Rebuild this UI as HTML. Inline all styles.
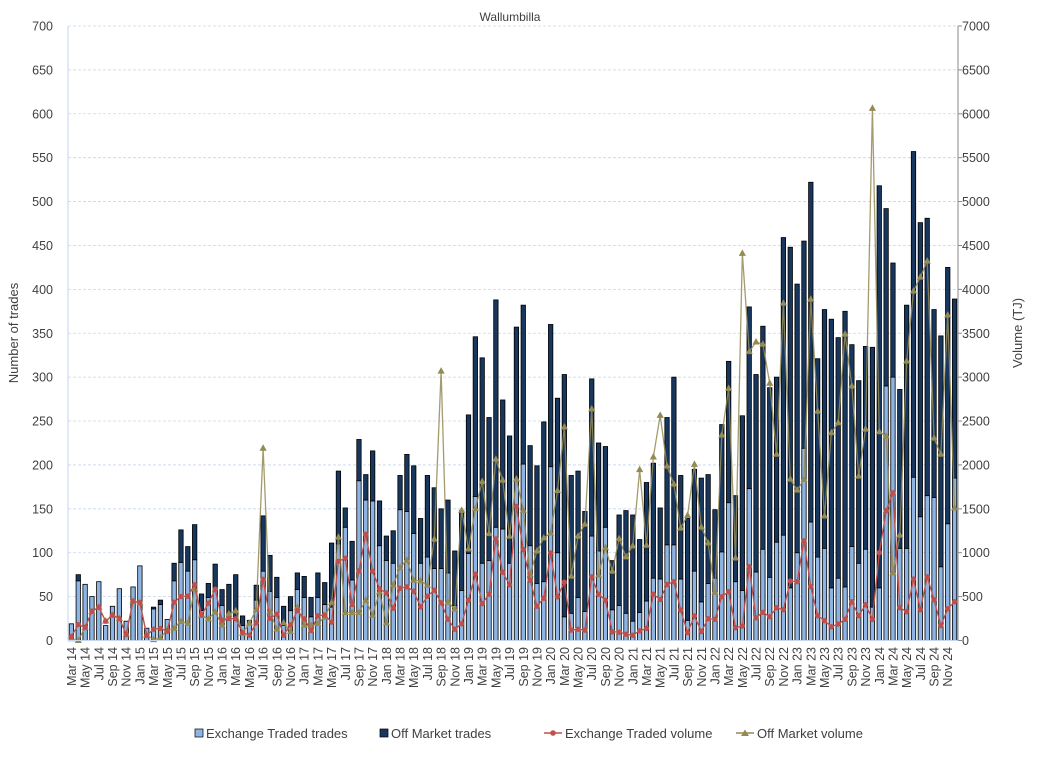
<!DOCTYPE html>
<html><head><meta charset="utf-8"><style>
body{margin:0;background:#fff;}
svg{display:block;font-family:"Liberation Sans",Arial,sans-serif;}
</style></head><body>
<svg id="chart" width="1037" height="773" viewBox="0 0 1037 773" xmlns="http://www.w3.org/2000/svg">
<text x="510" y="21" font-size="12" text-anchor="middle" fill="#404040">Wallumbilla</text>
<g id="grid"></g>
<g id="bars"></g>
<g id="lines"></g>
<g id="axes"></g>
<text transform="translate(18,333) rotate(-90)" font-size="13" text-anchor="middle" fill="#404040">Number of trades</text>
<text transform="translate(1022,333) rotate(-90)" font-size="13" text-anchor="middle" fill="#404040">Volume (TJ)</text>
<g font-size="13" fill="#404040">
 <g><rect x="195" y="729" width="8" height="8" fill="#8db4e2" stroke="#000" stroke-width="0.7"/><text x="206" y="738">Exchange Traded trades</text></g>
 <g><rect x="380" y="729" width="8" height="8" fill="#17375e" stroke="#000" stroke-width="0.7"/><text x="391" y="738">Off Market trades</text></g>
 <g><line x1="544" y1="733" x2="562" y2="733" stroke="#c0504d" stroke-width="1.5"/><circle cx="553" cy="733" r="2.8" fill="#c0504d"/><text x="565" y="738">Exchange Traded volume</text></g>
 <g><line x1="736" y1="733" x2="754" y2="733" stroke="#948a54" stroke-width="1.5"/><polygon points="745,729.5 749,736 741,736" fill="#948a54"/><text x="757" y="738">Off Market volume</text></g>
</g>
</svg>
<script>
const totalTrades=[19,75,64,50,67,17,39,59,22,61,85,14,38,46,24,88,126,107,132,53,65,87,58,64,75,28,23,63,142,97,72,39,50,77,73,49,77,66,111,193,151,113,229,189,216,159,119,125,188,212,199,139,188,174,150,160,102,148,257,346,322,254,388,274,233,357,382,222,199,249,360,276,303,188,193,147,298,225,221,91,143,148,143,115,180,202,151,254,300,188,139,195,185,189,149,246,318,165,256,380,303,358,288,300,459,448,406,455,522,321,377,366,345,375,337,296,335,334,518,492,430,286,382,557,476,481,377,347,425,389];
const exchangeTrades=[19,68,64,50,67,17,39,59,22,61,85,14,36,41,24,68,89,79,92,34,49,57,40,27,23,17,23,46,79,56,49,17,34,58,49,27,49,41,38,110,129,69,182,160,159,108,91,88,149,147,122,88,95,82,82,77,40,57,99,164,88,91,129,127,88,182,201,108,65,67,198,100,27,31,49,33,119,102,129,35,40,31,22,32,45,71,70,109,109,70,23,79,44,65,71,101,157,67,57,173,78,104,72,112,120,60,100,219,135,95,105,60,71,61,107,88,104,38,60,290,300,105,105,186,141,165,163,84,133,185];
const offMarketTrades=totalTrades.map((t,i)=>Math.max(0,t-exchangeTrades[i]));
const exchangeVolume=[46,182,148,334,379,220,288,250,68,448,432,57,129,137,106,436,501,505,634,288,425,584,231,250,247,91,61,201,698,254,300,61,178,341,247,114,281,292,209,903,937,410,793,1210,789,588,542,368,596,611,561,383,505,573,429,243,129,190,459,755,421,527,1157,778,634,1529,1036,687,391,482,998,497,664,118,129,118,725,527,459,99,95,72,61,110,137,527,467,639,670,347,90,279,102,249,241,499,556,146,165,840,260,321,271,374,351,677,670,1136,613,283,226,157,188,241,442,283,408,241,1000,1478,1682,374,328,700,351,726,465,169,362,442];
const offMarketVolume=[20,0,150,330,380,220,290,250,70,450,430,60,10,30,120,140,216,197,588,285,247,326,175,303,338,83,197,353,2190,330,129,201,102,379,175,175,193,265,432,1176,319,319,319,459,288,554,201,634,831,914,687,679,630,1153,3069,436,357,1483,1043,1502,1810,1218,2064,1825,1187,1840,1483,755,1020,1168,1225,1707,2432,732,1187,1324,2637,744,1058,789,1161,952,1077,1946,1085,2090,2565,1986,1781,1280,1425,2006,1292,1110,549,2340,2871,940,4410,3290,3400,3375,2931,2122,3842,1838,1713,1834,3888,2612,1418,2366,2480,3490,2898,1872,2408,6061,2378,2328,770,1200,3182,3980,4139,4321,2305,2122,3706,1510];
const monthNames=["Jan","Feb","Mar","Apr","May","Jun","Jul","Aug","Sep","Oct","Nov","Dec"];
const categories=[];
for(let k=0;k<totalTrades.length;k++){const m=(2+k)%12,y=14+Math.floor((2+k)/12);categories.push(monthNames[m]+" "+y);}
const leftTicks=[0,50,100,150,200,250,300,350,400,450,500,550,600,650,700];
const rightTicks=[0,500,1000,1500,2000,2500,3000,3500,4000,4500,5000,5500,6000,6500,7000];

const NS="http://www.w3.org/2000/svg";
const X0=68,X1=958,Y0=640.5,Y1=26;
const step=(X1-X0)/categories.length;
const xs=i=>X0+step*(i+0.5);
const yL=v=>Y0-(v/700)*(Y0-Y1);
const yR=v=>Y0-(v/7000)*(Y0-Y1);
function mk(tag,attrs,parent){const e=document.createElementNS(NS,tag);for(const k in attrs)e.setAttribute(k,attrs[k]);parent.appendChild(e);return e;}
const grid=document.getElementById('grid'),bars=document.getElementById('bars'),lines=document.getElementById('lines'),axes=document.getElementById('axes');
leftTicks.forEach((t,k)=>{
 if(t>0){const g=mk('line',{x1:X0,x2:X1,y1:yL(t),y2:yL(t),stroke:'#c6d6ee','stroke-width':0.8,'stroke-dasharray':'3,2'},grid);
 
 }
 const tl=mk('text',{x:53,y:yL(t)+4.5,'font-size':12.5,'text-anchor':'end',fill:'#404040'},axes);tl.textContent=t;
 
 
});
rightTicks.forEach(t=>{
 const tl=mk('text',{x:962,y:yR(t)+4.5,'font-size':12.5,fill:'#404040'},axes);tl.textContent=t;
 
 
 const tk=mk('line',{x1:X1,x2:X1+4,y1:yR(t),y2:yR(t),stroke:'#888','stroke-width':1},axes);
 
 
});
const la=mk('line',{x1:X0,x2:X0,y1:Y1,y2:Y0,stroke:'#c6d6ee','stroke-width':1},axes);


const ra=mk('line',{x1:X1,x2:X1,y1:Y1,y2:Y0,stroke:'#888','stroke-width':1},axes);


const xa=mk('line',{x1:X0,x2:X1,y1:Y0,y2:Y0,stroke:'#c6d6ee','stroke-width':1},axes);


const bw=4.4;
categories.forEach((c,i)=>{
 const x=xs(i)-bw/2;
 const e=exchangeTrades[i],o=offMarketTrades[i];
 const r1=mk('rect',{x:x,y:yL(e),width:bw,height:Math.max(0,Y0-yL(e)),fill:'#8db4e2',stroke:'#000','stroke-width':0.8},bars);
 
 
 if(o>0){const r2=mk('rect',{x:x,y:yL(e+o),width:bw,height:yL(e)-yL(e+o),fill:'#17375e',stroke:'#000','stroke-width':0.8},bars);
 
 }
 if(i%2===0){const t=mk('text',{transform:`translate(${xs(i)+4.5},647) rotate(-90)`,'font-size':12.5,'text-anchor':'end',fill:'#404040'},axes);t.textContent=c;
 
 }
});
const p2=mk('polyline',{points:offMarketVolume.map((v,i)=>xs(i)+','+yR(v)).join(' '),fill:'none',stroke:'#948a54','stroke-width':1.3,'stroke-opacity':0.85},lines);


offMarketVolume.forEach((v,i)=>{const x=xs(i),y=yR(v);
 const t=mk('polygon',{points:`${x},${y-4} ${x+3.6},${y+2.5} ${x-3.6},${y+2.5}`,fill:'#948a54'},lines);
 
 });
const p1=mk('polyline',{points:exchangeVolume.map((v,i)=>xs(i)+','+yR(v)).join(' '),fill:'none',stroke:'#c0504d','stroke-width':1.3},lines);


exchangeVolume.forEach((v,i)=>{
 const c=mk('circle',{cx:xs(i),cy:yR(v),r:2.7,fill:'#c0504d'},lines);
 
 });
</script>
</body></html>
